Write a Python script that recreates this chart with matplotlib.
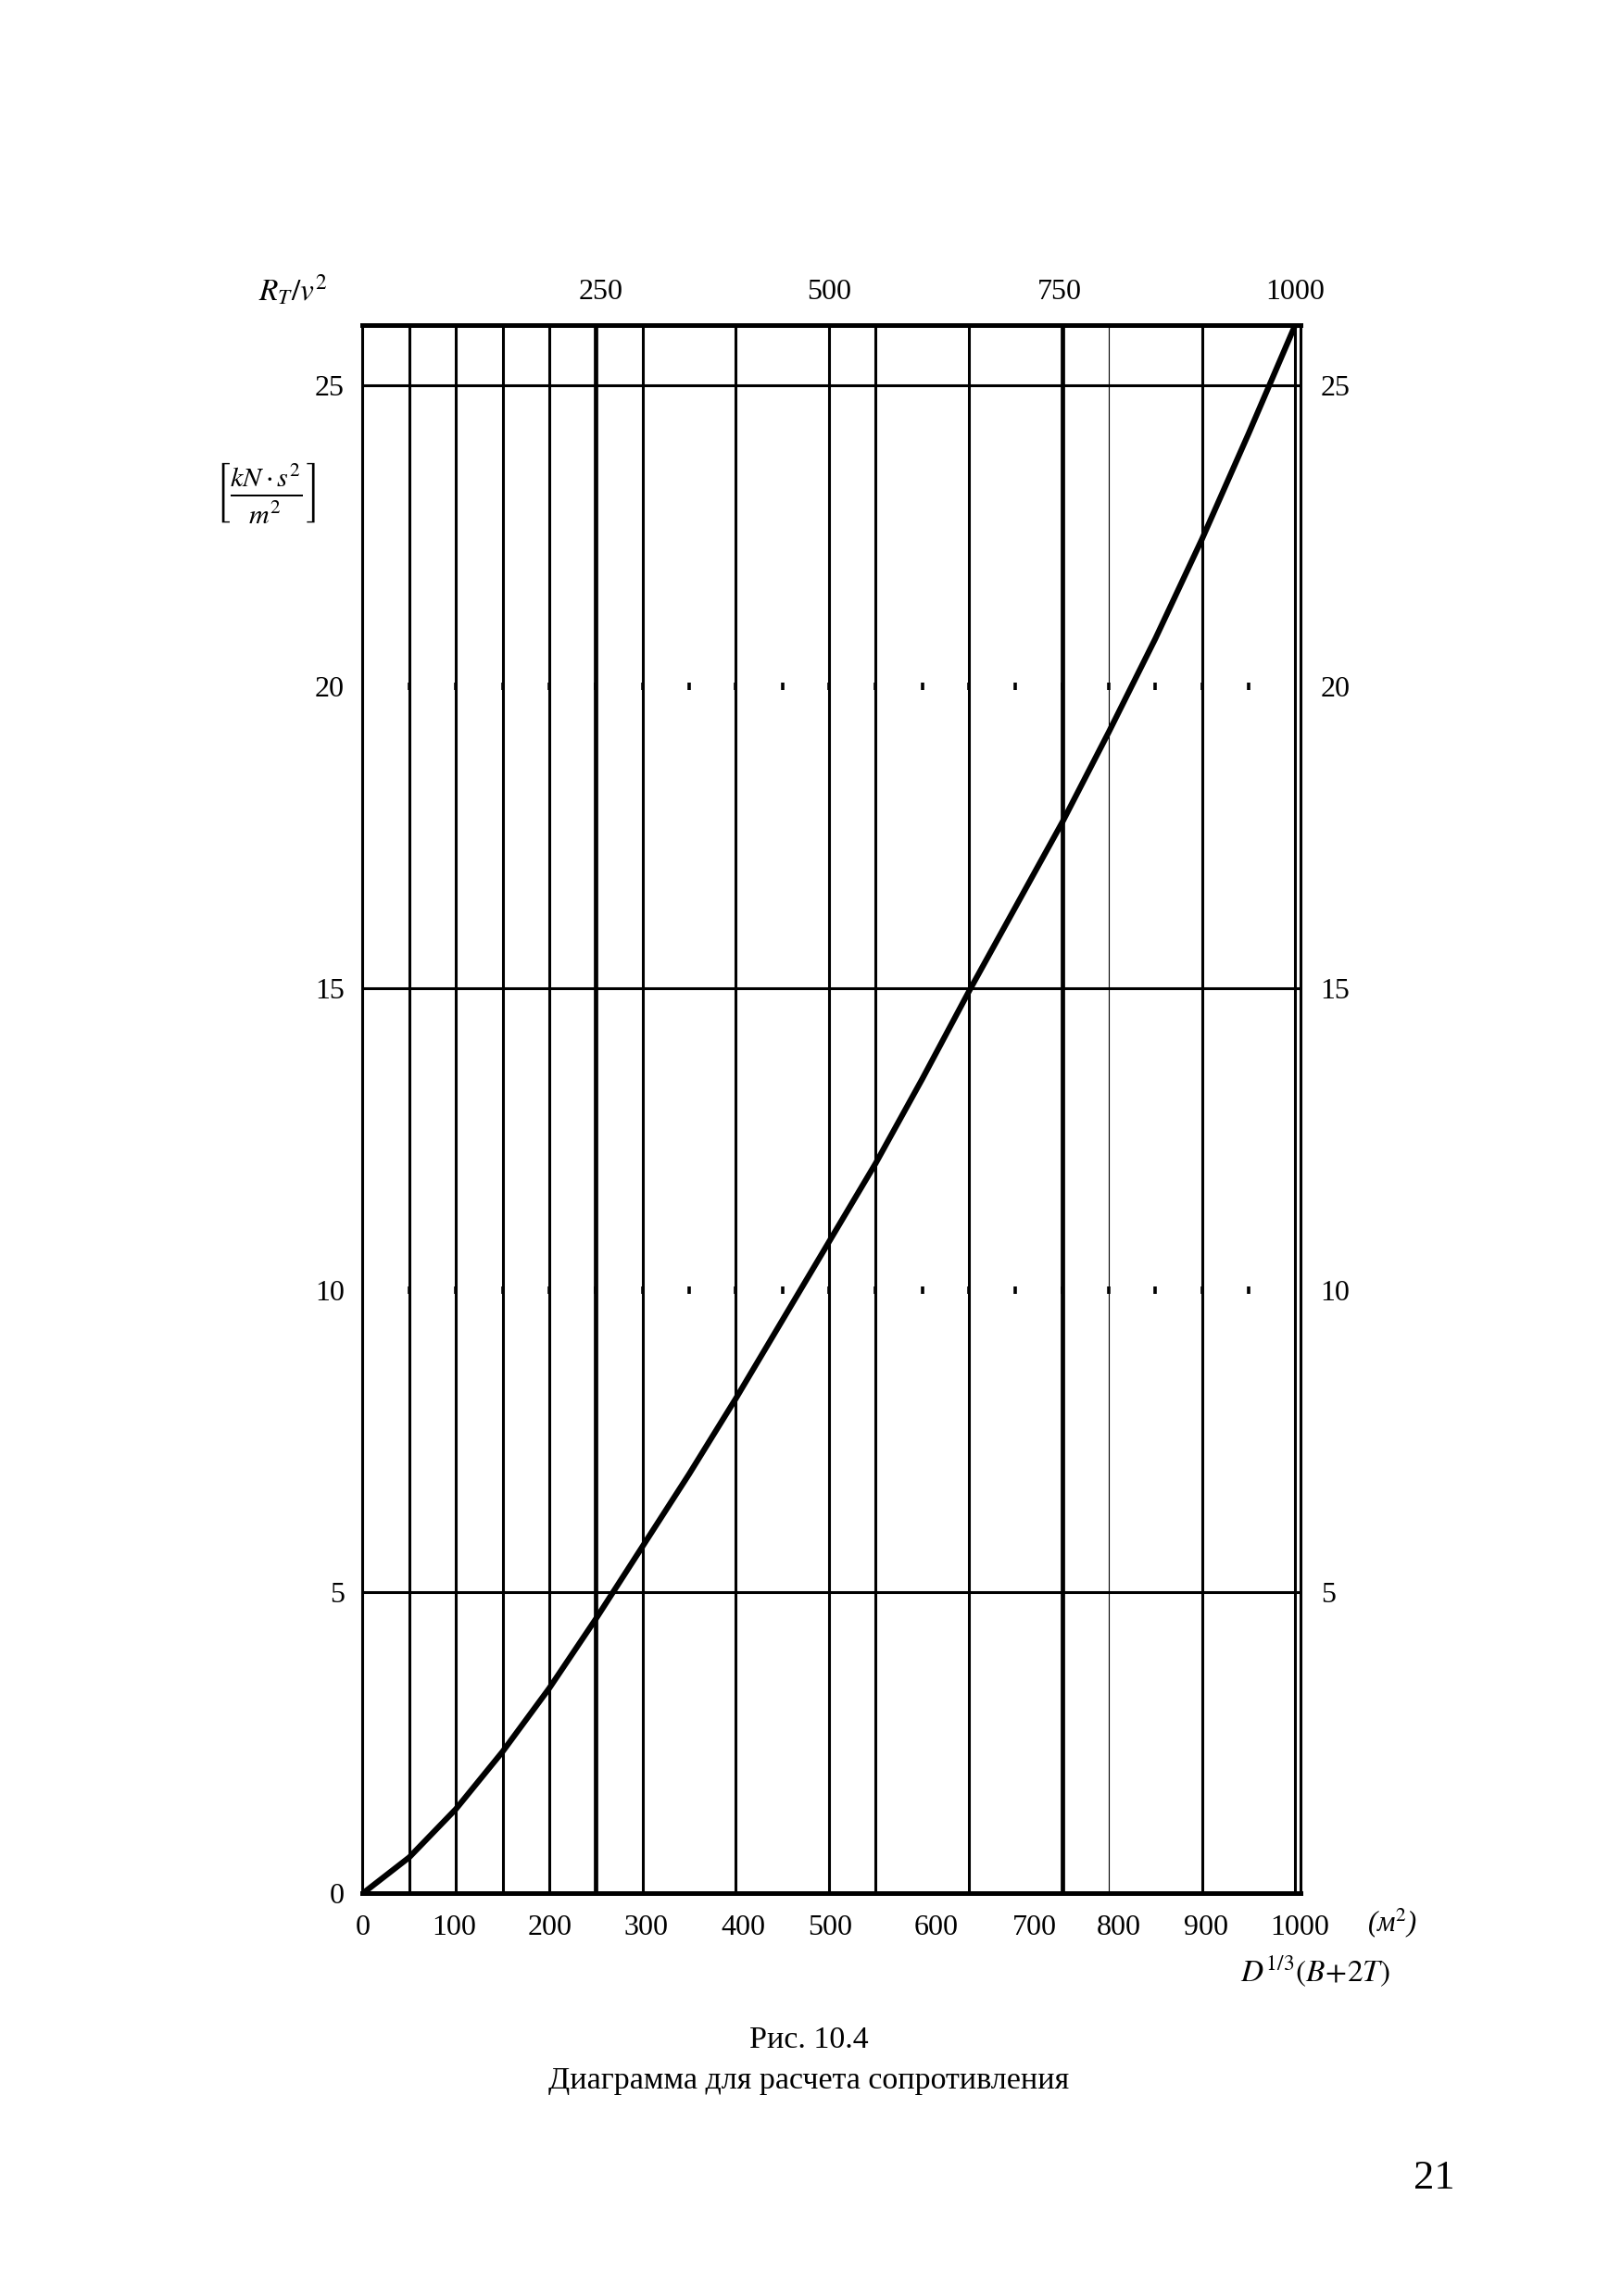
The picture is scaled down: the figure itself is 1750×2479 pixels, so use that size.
"""
Nomogram: resistance R_T/v^2 vs D^(1/3)(B+2T)
"""
import matplotlib.pyplot as plt
import numpy as np

# curve (top axis units)
x_vals = [0, 50, 100, 150, 200, 250, 300, 350, 400, 450, 500,
          550, 600, 650, 700, 750, 800, 850, 900, 950, 1000]
y_vals = [0.0, 0.6, 1.4, 2.35, 3.4, 4.55, 5.75, 6.95, 8.2, 9.5, 10.8,
          12.1, 13.5, 14.95, 16.35, 17.75, 19.25, 20.8, 22.45, 24.2, 26.0]

# vertical grid lines
vlines = [0, 50, 100, 150, 200, 250, 300, 400, 500, 550, 650, 750, 800, 900, 1000]
vlines_thick = [250, 750]
vlines_thin = [800]
hlines = [5, 15, 25]
dot_rows = [10, 20]
dot_cols = list(range(50, 1000, 50))

# tick labels
bottom_pos = [0, 98, 201, 304, 408, 501, 615, 720, 811, 904, 1005]
bottom_lab = ['0', '100', '200', '300', '400', '500', '600', '700', '800', '900', '1000']
top_pos = [255, 500, 747, 1000]
top_lab = ['250', '500', '750', '1000']
left_ticks = [0, 5, 10, 15, 20, 25]
right_ticks = [5, 10, 15, 20, 25]

plt.rcParams['font.family'] = ['Liberation Serif', 'DejaVu Serif']
plt.rcParams['mathtext.fontset'] = 'stix'

fig = plt.figure(figsize=(17.5, 24.79), dpi=100)
ax = fig.add_axes([0.2237, 0.1753, 0.5783, 0.6833])
ax.set_xlim(0, 1000)
ax.set_ylim(0, 26)

for v in vlines:
    lw = 2.2
    if v in vlines_thick:
        lw = 3.4
    if v in vlines_thin:
        lw = 0.8
    ax.axvline(v, color='black', lw=lw, zorder=1)
for h in hlines:
    ax.axhline(h, color='black', lw=2.2, zorder=1)
for r in dot_rows:
    ax.plot(dot_cols, [r] * len(dot_cols), linestyle='none', marker='|',
            markersize=6, mew=2.6, color='black', zorder=2)

ax.plot(x_vals, y_vals, color='black', lw=4.5, zorder=3,
        solid_capstyle='butt', solid_joinstyle='round')

for s in ['left', 'right']:
    ax.spines[s].set_linewidth(2.2)
for s in ['top', 'bottom']:
    ax.spines[s].set_linewidth(3.6)

ax.set_xticks(bottom_pos)
ax.set_xticklabels(bottom_lab)
ax.set_yticks(left_ticks)
ax.tick_params(axis='both', length=0, labelsize=23)
ax.tick_params(axis='x', pad=16)
ax.tick_params(axis='y', pad=14)

top = ax.secondary_xaxis('top')
top.set_xticks(top_pos)
top.set_xticklabels(top_lab)
top.tick_params(length=0, labelsize=23, pad=15)
top.spines['top'].set_visible(False)

right = ax.secondary_yaxis('right')
right.set_yticks(right_ticks)
right.tick_params(length=0, labelsize=23, pad=16)
right.spines['right'].set_visible(False)

fig.text(316 / 1750, 1 - 313 / 2479, r'$R_T/v^2$', fontsize=24, ha='center', va='center')
fig.text(287 / 1750, 1 - 532 / 2479, r'$\left[\frac{kN\cdot s^2}{m^2}\right]$',
         fontsize=31, ha='center', va='center')
fig.text(1503 / 1750, 1 - 2076 / 2479, '(м$^2$)', fontsize=22, style='italic',
         ha='center', va='center')
fig.text(1420 / 1750, 1 - 2128 / 2479, r'$D^{1/3}(B\!+\!2T)$', fontsize=24,
         ha='center', va='center')

fig.text(873 / 1750, 1 - 2203 / 2479, 'Рис. 10.4', fontsize=24.5, ha='center', va='center')
fig.text(873 / 1750, 1 - 2247 / 2479, 'Диаграмма для расчета сопротивления',
         fontsize=24.5, ha='center', va='center')
fig.text(1548 / 1750, 1 - 2352 / 2479, '21', fontsize=32, ha='center', va='center')

plt.savefig('out.png', dpi=100)
